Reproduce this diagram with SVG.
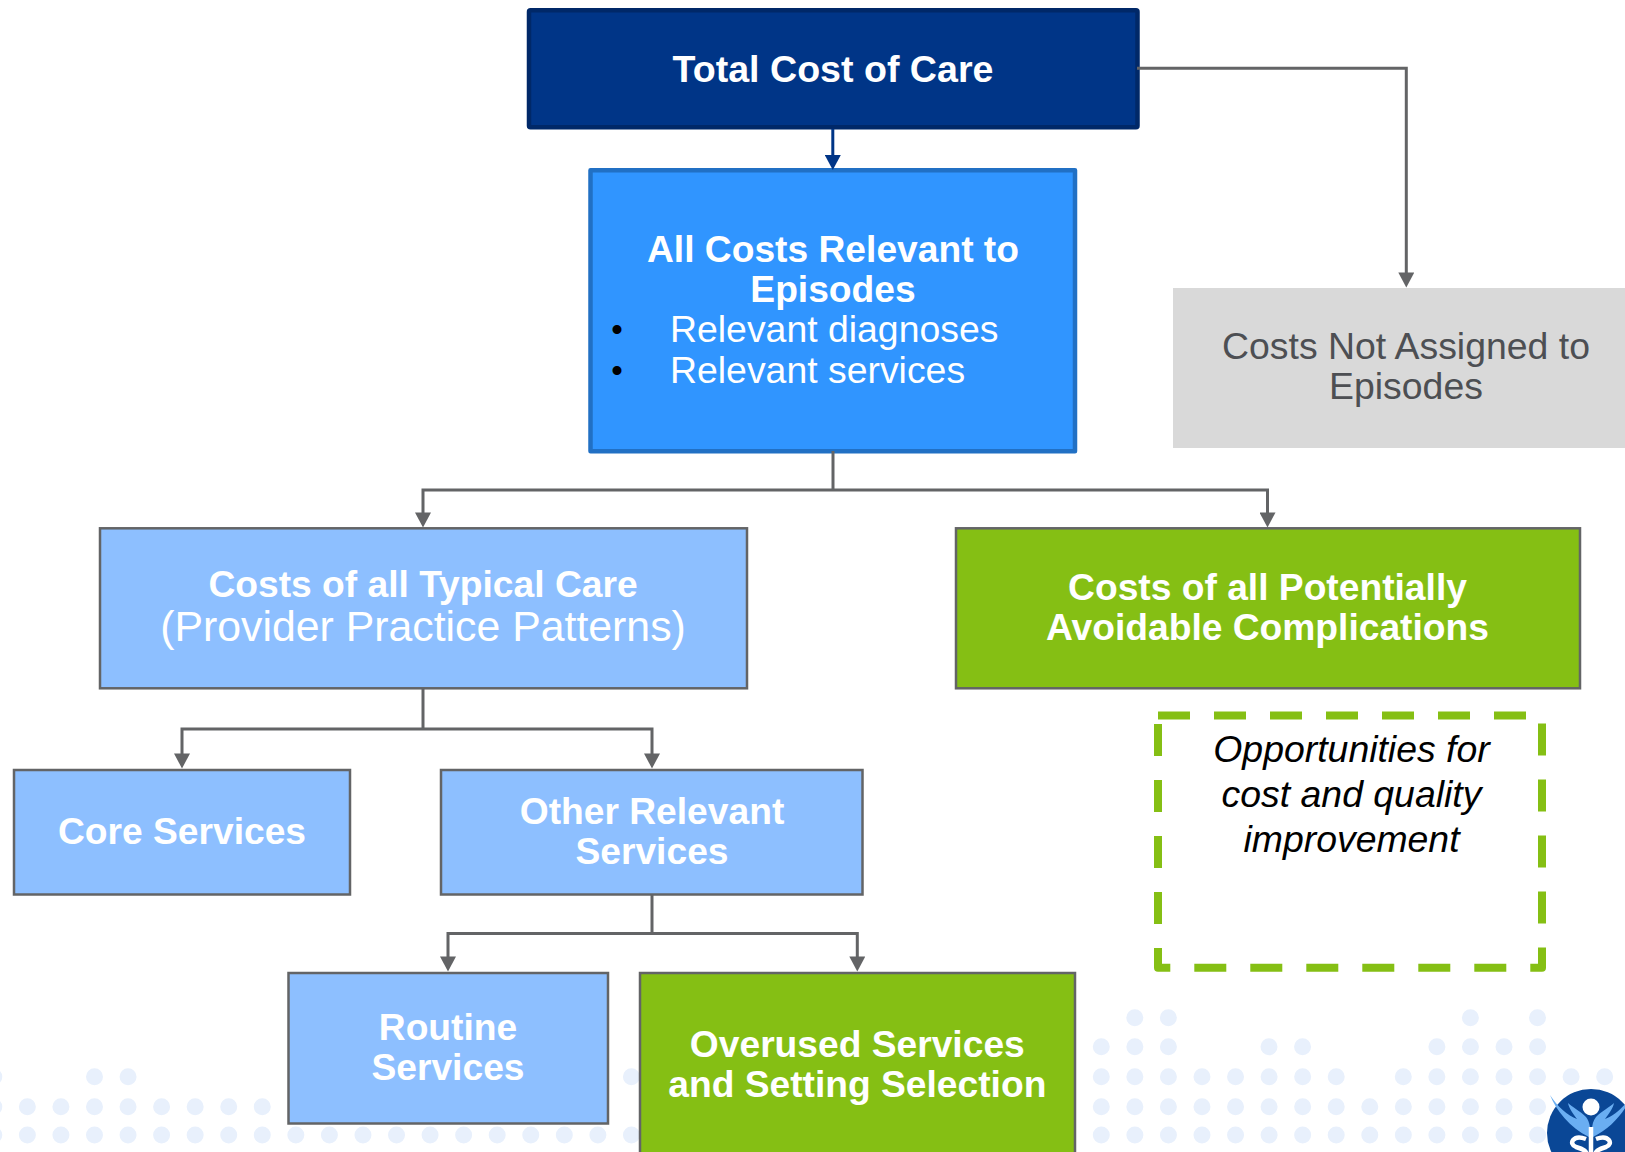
<svg xmlns="http://www.w3.org/2000/svg" width="1625" height="1152" viewBox="0 0 1625 1152">
<style>
text{font-family:"Liberation Sans",Arial,sans-serif;font-size:37.4px;text-anchor:middle}
.b{font-weight:700;fill:#fff;font-size:37.2px}
.r{fill:#fff}
.g{fill:#4d4f53}
.i{font-style:italic;fill:#000}
.k{fill:#000;font-size:33px}
.box{stroke:#636466;stroke-width:2.5}
.lt{fill:#8dbfff}
.gr{fill:#85bf14}
.dots{fill:none;stroke:#e8f0fc;stroke-width:17;stroke-linecap:round;stroke-dasharray:0 33.56}
.cn{fill:none;stroke:#636466;stroke-width:3;marker-end:url(#ah)}
.cp{fill:none;stroke:#636466;stroke-width:3}
</style>
<defs>
<marker id="ah" markerUnits="userSpaceOnUse" markerWidth="16" markerHeight="16" viewBox="0 0 15 16" refX="8" refY="8" orient="auto"><path d="M0 0L15 8L0 16Z" fill="#636466"/></marker>
<marker id="ahb" markerUnits="userSpaceOnUse" markerWidth="16" markerHeight="16" viewBox="0 0 15 16" refX="8" refY="8" orient="auto"><path d="M0 0L15 8L0 16Z" fill="#003587"/></marker>
</defs>
<rect width="1625" height="1152" fill="#fff"/>
<g id="background-dots">
<path class="dots" d="M-6.2 1076.7H-6M94.5 1076.7H128.5M631.4 1076.7H632M-6.2 1106.7H263M-6.2 1135H632"/>
<path class="dots" d="M1134.8 1017.7H1169M1470.4 1017.7H1471M1537.5 1017.7H1538M1101.3 1046.7H1169M1269 1046.7H1303M1436.9 1046.7H1538M1101.3 1076.7H1336.5M1403.3 1076.7H1605M1101.3 1106.7H1538M1101.3 1135H1538"/>
</g>
<g id="logo">
<circle cx="1591" cy="1133" r="44" fill="#0a4796"/>
<g id="wings" fill="#6aaef2">
<path id="wing" d="M1550 1095C1556 1110 1570 1128 1589 1137C1591 1130 1590 1122 1586 1117C1580 1111 1572 1107 1568 1103C1569 1108 1573 1114 1577 1119C1568 1116 1557 1106 1550 1095Z"/>
<path d="M1632 1095C1626 1110 1612 1128 1593 1137C1591 1130 1592 1122 1596 1117C1602 1111 1610 1107 1614 1103C1613 1108 1609 1114 1605 1119C1614 1116 1625 1106 1632 1095Z"/>
</g>
<circle cx="1591" cy="1107" r="8.5" fill="#fff"/>
<path d="M1591 1127V1152M1586 1139C1573 1134 1568 1144 1576 1147C1583 1149 1587 1151 1587 1156M1596 1139C1609 1134 1614 1144 1606 1147C1599 1149 1595 1151 1595 1156" fill="none" stroke="#fff" stroke-width="4.5"/>
</g>
<g id="node-total-cost">
<rect x="529" y="10.2" width="608.5" height="117" rx="1.5" fill="#003587" stroke="#002868" stroke-width="4.5" stroke-linejoin="round"/>
<text class="b" x="833" y="81.5" style="font-size:37.6px">Total Cost of Care</text>
</g>
<g id="node-relevant">
<rect x="590.5" y="170.2" width="484.5" height="281" fill="#3095ff" stroke="#2170c4" stroke-width="4.5" stroke-linejoin="round"/>
<text class="b" x="833" y="261.5">All Costs Relevant to</text>
<text class="b" x="833" y="301.7">Episodes</text>
<text class="k" x="617" y="340.5">•</text>
<text class="r" x="670" y="341.5" style="text-anchor:start">Relevant diagnoses</text>
<text class="k" x="617" y="381.5">•</text>
<text class="r" x="670" y="382.5" style="text-anchor:start">Relevant services</text>
</g>
<g id="node-not-assigned">
<rect x="1173" y="288" width="452" height="160" fill="#d9d9d9"/>
<text class="g" x="1406" y="359.3">Costs Not Assigned to</text>
<text class="g" x="1406" y="399.3">Episodes</text>
</g>
<g id="node-typical">
<rect class="box lt" x="100" y="528.3" width="647" height="160"/>
<text class="b" x="423" y="596.5">Costs of all Typical Care</text>
<text class="r" x="423" y="641" style="font-size:42.8px">(Provider Practice Patterns)</text>
</g>
<g id="node-pac">
<rect class="box gr" x="956" y="528.3" width="624" height="160"/>
<text class="b" x="1267.5" y="599.8">Costs of all Potentially</text>
<text class="b" x="1267.5" y="639.8">Avoidable Complications</text>
</g>
<g id="node-opportunities">
<rect x="1158" y="715.5" width="384" height="252.3" fill="none" stroke="#85bf14" stroke-width="8" stroke-dasharray="32 24" stroke-linejoin="round"/>
<text class="i" x="1351.5" y="761.5">Opportunities for</text>
<text class="i" x="1351.5" y="806.5">cost and quality</text>
<text class="i" x="1351.5" y="851.5">improvement</text>
</g>
<g id="node-core">
<rect class="box lt" x="14" y="770" width="336" height="124.5"/>
<text class="b" x="182" y="843.8">Core Services</text>
</g>
<g id="node-other">
<rect class="box lt" x="441" y="770" width="421.5" height="124.5"/>
<text class="b" x="652" y="823.8">Other Relevant</text>
<text class="b" x="652" y="863.8">Services</text>
</g>
<g id="node-routine">
<rect class="box lt" x="288.5" y="973" width="319.5" height="150.5"/>
<text class="b" x="448" y="1040">Routine</text>
<text class="b" x="448" y="1080">Services</text>
</g>
<g id="node-overused">
<rect class="box gr" x="640" y="973" width="435" height="190"/>
<text class="b" x="857.3" y="1056.7">Overused Services</text>
<text class="b" x="857.3" y="1096.7">and Setting Selection</text>
</g>
<g id="connectors">
<path d="M832.8 129V163" fill="none" stroke="#003587" stroke-width="3" marker-end="url(#ahb)"/>
<path class="cn" d="M1137 68.3H1406.3V280.5"/>
<path class="cp" d="M833 451V490"/>
<path class="cn" d="M833 490H423V520.5"/>
<path class="cn" d="M833 490H1267.5V520.5"/>
<path class="cp" d="M423 688V729"/>
<path class="cn" d="M423 729H182V761.5"/>
<path class="cn" d="M423 729H652V761.5"/>
<path class="cp" d="M652 894.5V933.5"/>
<path class="cn" d="M652 933.5H448V964.5"/>
<path class="cn" d="M652 933.5H857.3V964.5"/>
</g>
</svg>
